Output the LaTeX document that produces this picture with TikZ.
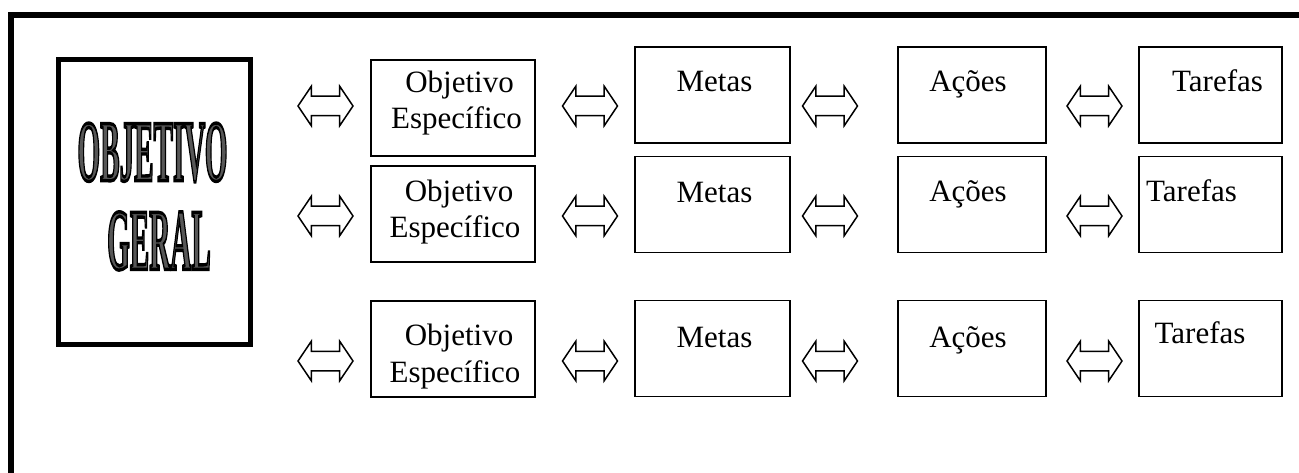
\documentclass[tikz,border=0pt]{standalone}
\usepackage{fontspec}
\setmainfont{Liberation Serif}
\usetikzlibrary{shapes.arrows}

\tikzset{
  caixa/.style={draw, line width=1.6pt, inner sep=0pt, minimum height=96pt},
  seta/.style={draw, line width=1.5pt, shape=double arrow, inner xsep=0pt, inner ysep=9pt,
    minimum height=55pt, double arrow head extend=10pt, double arrow tip angle=112},
  rotulo/.style={anchor=base, inner sep=0pt, font=\fontsize{31}{36}\selectfont},
  arte/.style={inner sep=0pt, font=\fontsize{87}{87}\selectfont\bfseries}
}
% raised letters: grey face with a heavy black outline
\newcommand{\relevo}[1]{\scalebox{0.335}[1]{\color{black!66}%
  \special{pdf:literal direct 0 G 2 Tr 3.4 w}#1\special{pdf:literal direct 0 Tr}}}

\begin{document}
\begin{tikzpicture}[x=1pt, y=-1pt]
  \useasboundingbox (0,0) rectangle (1299,473);

  % outer frame (open at the bottom and on the right)
  \draw[line width=6pt] (11,480) -- (11,15) -- (1310,15);

  % general objective
  \node[draw, line width=5pt, minimum width=192pt, minimum height=285pt] (geral) at (154.5,202) {};
  \node[arte] (obj) at (152.5,152.5) {\relevo{OBJETIVO}};
  \node[arte] (ger) at (159,241) {\relevo{GERAL}};

  % specific objectives
  \node[caixa, minimum width=164pt] (oe1) at (453,108) {};
  \node[rotulo] (oe1a) at (459.5,93) {Objetivo};
  \node[rotulo] (oe1b) at (456.5,129) {Específico};
  \node[caixa, minimum width=164pt] (oe2) at (453,214) {};
  \node[rotulo] (oe2a) at (459,202) {Objetivo};
  \node[rotulo] (oe2b) at (455,238) {Específico};
  \node[caixa, minimum width=164pt] (oe3) at (453,349) {};
  \node[rotulo] (oe3a) at (459,345) {Objetivo};
  \node[rotulo] (oe3b) at (455,382) {Específico};

  % goals
  \node[caixa, minimum width=155pt] (meta1) at (712.5,95) {};
  \node[rotulo] (meta1t) at (714.5,92) {Metas};
  \node[caixa, minimum width=155pt] (meta2) at (712.5,204.5) {};
  \node[rotulo] (meta2t) at (714.5,203) {Metas};
  \node[caixa, minimum width=155pt] (meta3) at (712.5,348.5) {};
  \node[rotulo] (meta3t) at (714.5,347) {Metas};

  % actions
  \node[caixa, minimum width=148pt] (acao1) at (972,95) {};
  \node[rotulo] (acao1t) at (968,92) {Ações};
  \node[caixa, minimum width=148pt] (acao2) at (972,204.5) {};
  \node[rotulo] (acao2t) at (968,202) {Ações};
  \node[caixa, minimum width=148pt] (acao3) at (972,348.5) {};
  \node[rotulo] (acao3t) at (968,347) {Ações};

  % tasks
  \node[caixa, minimum width=143pt] (tarefa1) at (1210.5,95) {};
  \node[rotulo] (tarefa1t) at (1217.5,92) {Tarefas};
  \node[caixa, minimum width=143pt] (tarefa2) at (1210.5,204.5) {};
  \node[rotulo] (tarefa2t) at (1191.5,202) {Tarefas};
  \node[caixa, minimum width=143pt] (tarefa3) at (1210.5,348.5) {};
  \node[rotulo] (tarefa3t) at (1200,343) {Tarefas};

  % two-way arrows
  \node[seta] (s01) at (325.5,106) {};
  \node[seta] (s02) at (325.5,216) {};
  \node[seta] (s03) at (325.5,361) {};
  \node[seta] (s11) at (590,106) {};
  \node[seta] (s12) at (590,216) {};
  \node[seta] (s13) at (590,361) {};
  \node[seta] (s21) at (830,106) {};
  \node[seta] (s22) at (830,216) {};
  \node[seta] (s23) at (830,361) {};
  \node[seta] (s31) at (1094.5,106) {};
  \node[seta] (s32) at (1094.5,216) {};
  \node[seta] (s33) at (1094.5,361) {};
\end{tikzpicture}
\end{document}
